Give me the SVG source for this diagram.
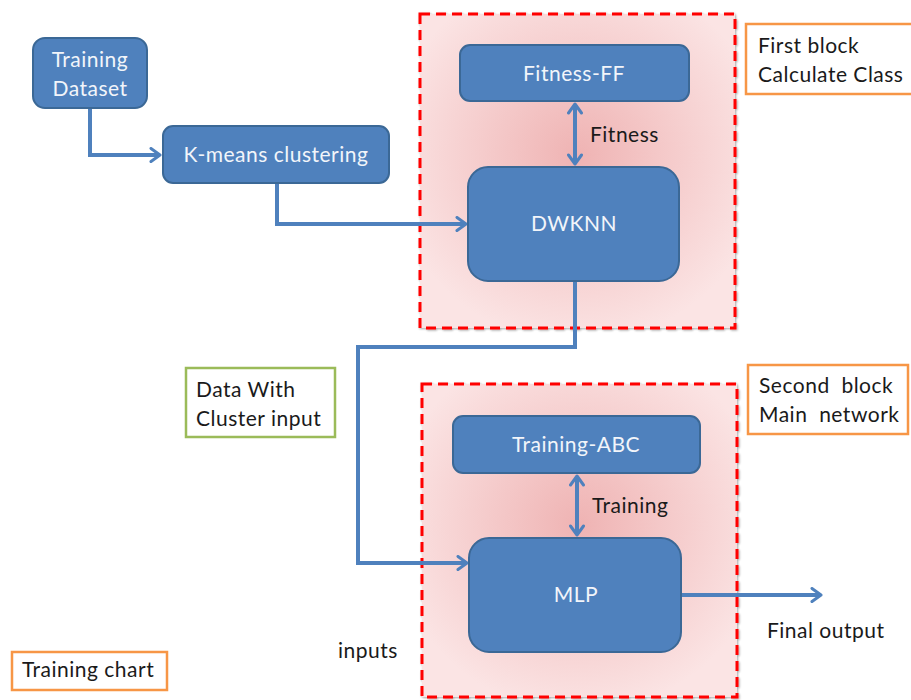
<svg xmlns="http://www.w3.org/2000/svg" width="911" height="700" viewBox="0 0 911 700">
<defs>
<radialGradient id="pink" cx="50%" cy="45%" r="60%">
<stop offset="0" stop-color="#efb3b3"/>
<stop offset="1" stop-color="#fbe4e4"/>
</radialGradient>
<marker id="arr" viewBox="0 0 16 16" refX="12" refY="8" markerWidth="16" markerHeight="16" markerUnits="userSpaceOnUse" orient="auto-start-reverse">
<path d="M3,1.5 L12,8 L3,14.5" fill="none" stroke="#4f81bd" stroke-width="3" stroke-linecap="round" stroke-linejoin="round"/>
</marker>
<filter id="sh" x="-5%" y="-5%" width="110%" height="110%">
<feDropShadow dx="1" dy="1" stdDeviation="1" flood-color="#000" flood-opacity="0.35"/>
</filter>
</defs>
<style>
.node{fill:#4f81bd;stroke:#3b6896;stroke-width:2}
.nt{font-family:Lato,"Open Sans",sans-serif;font-size:21px;letter-spacing:0.5px;fill:#f2f5fa;text-anchor:middle}
.lt{font-family:Lato,"Open Sans",sans-serif;font-size:21px;letter-spacing:0.5px;fill:#1a1a1a}
.blk{fill:url(#pink);stroke:#ff0000;stroke-width:3;stroke-dasharray:10,6}
.con{fill:none;stroke:#4f81bd;stroke-width:4}
.ob{fill:#fff;stroke:#f79646;stroke-width:2.5}
.gb{fill:#fff;stroke:#9bbb59;stroke-width:2.5}
</style>
<rect width="911" height="700" fill="#fff"/>
<g id="block1"><rect class="blk" x="420" y="14" width="315" height="314" filter="url(#sh)"/></g>
<g id="block2"><rect class="blk" x="422" y="384" width="315" height="313" filter="url(#sh)"/></g>
<g id="connectors">
<polyline class="con" points="90,108 90,155 160,155" marker-end="url(#arr)"/>
<polyline class="con" points="277,183 277,224 466,224" marker-end="url(#arr)"/>
<polyline class="con" points="575,281 575,347 358,347 358,563 467,563" marker-end="url(#arr)"/>
<line class="con" x1="575" y1="104" x2="575" y2="164" marker-start="url(#arr)" marker-end="url(#arr)"/>
<line class="con" x1="577" y1="476" x2="577" y2="535" marker-start="url(#arr)" marker-end="url(#arr)"/>
<line class="con" x1="681" y1="595" x2="821" y2="595" marker-end="url(#arr)"/>
</g>
<g id="training-dataset"><rect class="node" x="33" y="38" width="114" height="70" rx="12"/><text class="nt" x="90" y="67">Training</text><text class="nt" x="90" y="96">Dataset</text></g>
<g id="kmeans"><rect class="node" x="163" y="126" width="226" height="57" rx="10"/><text class="nt" x="276" y="162">K-means clustering</text></g>
<g id="fitness-ff"><rect class="node" x="460" y="45" width="229" height="56" rx="10"/><text class="nt" x="574" y="81">Fitness-FF</text></g>
<g id="dwknn"><rect class="node" x="468" y="167" width="211" height="114" rx="20"/><text class="nt" x="574" y="231">DWKNN</text></g>
<g id="training-abc"><rect class="node" x="453" y="416" width="247" height="57" rx="10"/><text class="nt" x="576" y="452">Training-ABC</text></g>
<g id="mlp"><rect class="node" x="469" y="538" width="212" height="114" rx="20"/><text class="nt" x="576" y="602">MLP</text></g>
<g id="labels">
<text class="lt" x="590" y="142">Fitness</text>
<text class="lt" x="592" y="513">Training</text>
<text class="lt" x="767" y="638">Final output</text>
<text class="lt" x="338" y="658">inputs</text>
</g>
<g id="first-block-label"><rect class="ob" x="746" y="24" width="168" height="70"/><text class="lt" x="758" y="53">First block</text><text class="lt" x="758" y="82">Calculate Class</text></g>
<g id="second-block-label"><rect class="ob" x="748" y="365" width="160" height="69"/><text class="lt" x="759" y="393" xml:space="preserve">Second  block</text><text class="lt" x="759" y="422" xml:space="preserve">Main  network</text></g>
<g id="data-label"><rect class="gb" x="186" y="368" width="149" height="69"/><text class="lt" x="196" y="397">Data With</text><text class="lt" x="196" y="426">Cluster input</text></g>
<g id="chart-label"><rect class="ob" x="12" y="652" width="155" height="38"/><text class="lt" x="22" y="677">Training chart</text></g>
</svg>
